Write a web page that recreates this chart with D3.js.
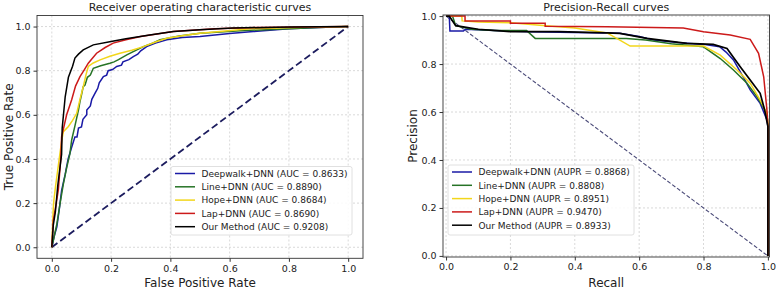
<!DOCTYPE html>
<html>
<head>
<meta charset="utf-8">
<script src="https://cdn.jsdelivr.net/npm/d3@7"></script>
<style>
  body { margin: 0; background: #fff; }
  svg { font-family: "DejaVu Sans", sans-serif; }
</style>
</head>
<body>
<div id="chart"></div>
<script>
/* data */
var methods = ["Deepwalk+DNN", "Line+DNN", "Hope+DNN", "Lap+DNN", "Our Method"];
var aucValues = ["0.8633", "0.8890", "0.8684", "0.8690", "0.9208"];
var auprValues = ["0.8868", "0.8808", "0.8951", "0.9470", "0.8933"];
var ticks = [0, 0.2, 0.4, 0.6, 0.8, 1.0];

// ROC points [fpr, tpr]
var rocDeepwalk = [[0,0],[0.008,0.05],[0.017,0.092],[0.025,0.17],[0.033,0.257],[0.045,0.33],[0.055,0.4],[0.067,0.453],[0.078,0.5],[0.085,0.5],[0.09,0.54],[0.1,0.545],[0.105,0.58],[0.118,0.6],[0.118,0.622],[0.13,0.64],[0.135,0.67],[0.146,0.698],[0.155,0.72],[0.16,0.745],[0.174,0.773],[0.185,0.78],[0.19,0.8],[0.205,0.805],[0.219,0.819],[0.235,0.825],[0.24,0.84],[0.26,0.85],[0.275,0.864],[0.29,0.875],[0.3,0.89],[0.32,0.909],[0.35,0.925],[0.388,0.94],[0.44,0.95],[0.5,0.955],[0.6,0.968],[0.68,0.977],[0.8,0.99],[0.9,0.996],[1,1]];
var rocLine = [[0,0],[0.008,0.05],[0.017,0.106],[0.028,0.2],[0.039,0.287],[0.05,0.36],[0.061,0.423],[0.067,0.486],[0.078,0.55],[0.09,0.622],[0.095,0.66],[0.1,0.69],[0.106,0.728],[0.112,0.735],[0.12,0.77],[0.13,0.78],[0.14,0.811],[0.165,0.822],[0.196,0.834],[0.21,0.84],[0.225,0.85],[0.253,0.872],[0.28,0.89],[0.309,0.909],[0.34,0.925],[0.365,0.94],[0.43,0.957],[0.5,0.97],[0.65,0.982],[0.8,0.99],[0.9,0.996],[1,1]];
var rocHope = [[0,0],[0.004,0.15],[0.006,0.2],[0.012,0.27],[0.017,0.32],[0.025,0.4],[0.033,0.48],[0.039,0.524],[0.056,0.547],[0.07,0.575],[0.084,0.607],[0.095,0.67],[0.106,0.728],[0.115,0.78],[0.123,0.819],[0.14,0.835],[0.163,0.849],[0.196,0.865],[0.23,0.879],[0.27,0.893],[0.309,0.909],[0.35,0.93],[0.388,0.947],[0.45,0.96],[0.5,0.97],[0.67,0.99],[0.85,0.997],[1,1]];
var rocLap = [[0,0],[0.005,0.12],[0.015,0.2],[0.022,0.26],[0.03,0.4],[0.033,0.5],[0.05,0.6],[0.067,0.668],[0.08,0.73],[0.095,0.773],[0.11,0.805],[0.123,0.834],[0.151,0.879],[0.18,0.905],[0.207,0.925],[0.25,0.94],[0.3,0.955],[0.41,0.977],[0.55,0.99],[0.7,0.996],[1,1]];
var rocOurs = [[0,0],[0.005,0.1],[0.012,0.16],[0.02,0.28],[0.033,0.42],[0.035,0.54],[0.045,0.68],[0.056,0.77],[0.07,0.82],[0.078,0.857],[0.09,0.875],[0.106,0.894],[0.14,0.917],[0.2,0.932],[0.25,0.945],[0.33,0.962],[0.41,0.977],[0.5,0.985],[0.61,0.993],[0.8,0.998],[1,1]];

// PR points [recall, precision]
var prDeepwalk = [[0,1],[0.01,1],[0.012,0.9375],[0.054,0.9375],[0.06,0.945],[0.15,0.94],[0.26,0.935],[0.4,0.932],[0.54,0.928],[0.6,0.915],[0.645,0.9],[0.72,0.89],[0.8,0.882],[0.85,0.872],[0.87,0.85],[0.893,0.817],[0.923,0.747],[0.945,0.692],[0.976,0.636],[0.997,0.567],[1,0.54],[1,0]];
var prLine = [[0,1],[0.02,1],[0.03,0.96],[0.08,0.945],[0.15,0.94],[0.25,0.94],[0.277,0.907],[0.45,0.907],[0.56,0.907],[0.62,0.9],[0.7,0.885],[0.8,0.872],[0.852,0.823],[0.893,0.775],[0.935,0.72],[0.966,0.664],[0.997,0.594],[1,0.55],[1,0]];
var prHope = [[0,1],[0.049,1],[0.05,0.98],[0.1,0.975],[0.2,0.972],[0.31,0.96],[0.4,0.95],[0.45,0.94],[0.5,0.93],[0.54,0.9],[0.572,0.875],[0.7,0.875],[0.8,0.875],[0.852,0.837],[0.904,0.775],[0.945,0.72],[0.976,0.65],[0.997,0.594],[1,0.55],[1,0]];
var prLap = [[0,1],[0.059,1],[0.059,0.98],[0.2,0.98],[0.2,0.97],[0.308,0.97],[0.308,0.958],[0.5,0.955],[0.737,0.95],[0.8,0.935],[0.883,0.921],[0.945,0.903],[0.971,0.845],[0.987,0.747],[0.997,0.608],[1,0.54],[1,0]];
var prOurs = [[0,1],[0.01,1],[0.03,0.96],[0.1,0.945],[0.2,0.935],[0.35,0.935],[0.5,0.93],[0.54,0.928],[0.624,0.907],[0.748,0.886],[0.83,0.882],[0.873,0.865],[0.914,0.789],[0.945,0.733],[0.976,0.678],[0.99,0.608],[1,0.54],[1,0]];

var rocSeries = [rocDeepwalk, rocLine, rocHope, rocLap, rocOurs];
var prSeries = [prDeepwalk, prLine, prHope, prLap, prOurs];
var colors = ["#1a1aa6", "#267326", "#f2d61b", "#cc1a1a", "#000000"];

var svg = d3.select("#chart").append("svg")
  .attr("width", 776)
  .attr("height", 288);

function drawPanel(opt) {
  var x = d3.scaleLinear().domain(opt.xDomain).range([opt.left, opt.right]);
  var y = d3.scaleLinear().domain(opt.yDomain).range([opt.bottom, opt.top]);
  var g = svg.append("g");

  // grid
  g.selectAll(".vgrid").data(ticks).enter().append("line")
    .attr("x1", d => x(d)).attr("x2", d => x(d))
    .attr("y1", opt.top).attr("y2", opt.bottom)
    .attr("stroke", "#cfcfcf").attr("stroke-width", 0.8)
    .attr("stroke-dasharray", "2,2");
  g.selectAll(".hgrid").data(ticks).enter().append("line")
    .attr("y1", d => y(d)).attr("y2", d => y(d))
    .attr("x1", opt.left).attr("x2", opt.right)
    .attr("stroke", "#cfcfcf").attr("stroke-width", 0.8)
    .attr("stroke-dasharray", "2,2");

  // axes
  var xAxis = d3.axisBottom(x).tickValues(ticks).tickFormat(d3.format(".1f")).tickSize(3.5).tickPadding(3);
  var yAxis = d3.axisLeft(y).tickValues(ticks).tickFormat(d3.format(".1f")).tickSize(3.5).tickPadding(3);
  var gx = g.append("g").attr("transform", "translate(0," + opt.bottom + ")").call(xAxis);
  var gy = g.append("g").attr("transform", "translate(" + opt.left + ",0)").call(yAxis);
  [gx, gy].forEach(function (a) {
    a.select(".domain").remove();
    a.selectAll("line").attr("stroke", "#333");
    a.selectAll("text").style("font-size", "9.5px").attr("fill", "#222")
      .style("font-family", "DejaVu Sans");
  });

  // diagonal
  g.append("line")
    .attr("x1", x(opt.diag[0][0])).attr("y1", y(opt.diag[0][1]))
    .attr("x2", x(opt.diag[1][0])).attr("y2", y(opt.diag[1][1]))
    .attr("stroke", opt.diagColor).attr("stroke-width", opt.diagWidth)
    .attr("stroke-dasharray", opt.diagDash);

  // curves
  var line = d3.line().x(d => x(d[0])).y(d => y(d[1]));
  opt.series.forEach(function (s, i) {
    g.append("path").datum(s)
      .attr("d", line)
      .attr("fill", "none")
      .attr("stroke", colors[i])
      .attr("stroke-width", i === 4 && opt.thickLast ? 1.7 : 1.5)
      .attr("stroke-linejoin", "miter");
  });

  // frame
  g.append("rect")
    .attr("x", opt.left).attr("y", opt.top)
    .attr("width", opt.right - opt.left).attr("height", opt.bottom - opt.top)
    .attr("fill", "none").attr("stroke", "#333").attr("stroke-width", 0.9);

  // title and labels
  var cx = (opt.left + opt.right) / 2;
  g.append("text").attr("x", cx).attr("y", 11)
    .attr("text-anchor", "middle").style("font-size", "11px").attr("fill", "#222")
    .text(opt.title);
  g.append("text").attr("x", cx).attr("y", 286.5)
    .attr("text-anchor", "middle").style("font-size", "12px").attr("fill", "#222")
    .text(opt.xLabel);
  g.append("text")
    .attr("transform", "translate(" + opt.yLabelX + "," + ((opt.top + opt.bottom) / 2) + ") rotate(-90)")
    .attr("text-anchor", "middle").style("font-size", "12px").attr("fill", "#222")
    .text(opt.yLabel);

  // legend
  var lg = g.append("g");
  lg.append("rect")
    .attr("x", opt.legend.x).attr("y", opt.legend.y)
    .attr("width", opt.legend.w).attr("height", opt.legend.h)
    .attr("rx", 2).attr("fill", "#fff").attr("fill-opacity", 0.85)
    .attr("stroke", "#d8d8d8").attr("stroke-width", 0.8);
  methods.forEach(function (m, i) {
    var yy = opt.legend.y + 7 + i * 13.3;
    lg.append("line")
      .attr("x1", opt.legend.x + 4).attr("x2", opt.legend.x + 24)
      .attr("y1", yy).attr("y2", yy)
      .attr("stroke", colors[i]).attr("stroke-width", 1.5);
    lg.append("text")
      .attr("x", opt.legend.x + 30.5).attr("y", yy + 3.3)
      .style("font-size", "9px").attr("fill", "#222")
      .text(m + " (" + opt.metric + " = " + opt.values[i] + ")");
  });
}

drawPanel({
  left: 37, right: 363, top: 15.5, bottom: 258.3,
  xDomain: [-0.05, 1.05], yDomain: [-0.05, 1.05],
  series: rocSeries,
  diag: [[0, 0], [1, 1]], diagColor: "#1c1c5e", diagWidth: 1.8, diagDash: "7,3.5",
  title: "Receiver operating characteristic curves",
  xLabel: "False Positive Rate", yLabel: "True Positive Rate", yLabelX: 12.5,
  legend: { x: 171, y: 166.5, w: 181, h: 68.5 },
  metric: "AUC", values: aucValues, thickLast: false
});

drawPanel({
  left: 443, right: 769.5, top: 15, bottom: 257,
  xDomain: [-0.0095, 1.005], yDomain: [-0.0045, 1.0045],
  series: prSeries,
  diag: [[0, 1], [1, 0]], diagColor: "#4a4a78", diagWidth: 1.1, diagDash: "4,2",
  title: "Precision-Recall curves",
  xLabel: "Recall", yLabel: "Precision", yLabelX: 417,
  legend: { x: 448, y: 165, w: 186, h: 70 },
  metric: "AUPR", values: auprValues, thickLast: true
});
</script>
</body>
</html>
